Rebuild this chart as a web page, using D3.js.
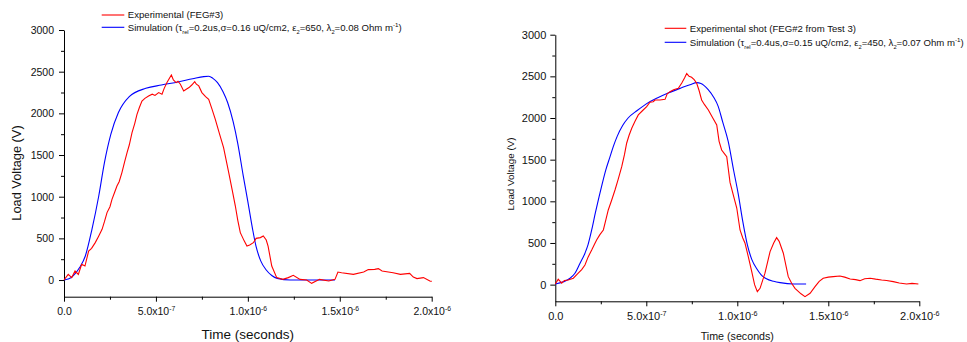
<!DOCTYPE html>
<html>
<head>
<meta charset="utf-8">
<script src="https://cdn.jsdelivr.net/npm/d3@7"></script>
<style>
  body { margin: 0; background: #fff; }
  text { font-family: "Liberation Sans", Arial, sans-serif; fill: #111; }
</style>
</head>
<body>
<svg id="chart" width="967" height="342"></svg>
<script>
// time values are in units of 1e-7 s
const tUnit = 1e-7;

const xTicks = [0, 5e-7, 1e-6, 1.5e-6, 2e-6];
const xMinor = [2.5e-7, 7.5e-7, 1.25e-6, 1.75e-6];
const yTicks = [0, 500, 1000, 1500, 2000, 2500, 3000];
const yMinor = [250, 750, 1250, 1750, 2250, 2750];

// left panel: FEG#3
const leftExpT = [0, 0.23, 0.42, 0.6, 0.78, 0.96, 1.14, 1.34, 1.5, 1.7, 1.87, 2.07, 2.2, 2.34, 2.5, 2.61, 2.75, 2.88, 3.0, 3.15, 3.3, 3.43, 3.55, 3.7, 3.85, 3.97, 4.1, 4.24, 4.4, 4.6, 4.8, 4.95, 5.15, 5.33, 5.45, 5.6, 5.84, 5.95, 6.1, 6.2, 6.33, 6.51, 6.65, 6.8, 6.95, 7.11, 7.2, 7.33, 7.5, 7.7, 7.87, 8.05, 8.23, 8.45, 8.68, 8.96, 9.15, 9.32, 9.45, 9.59, 9.8, 9.95, 10.1, 10.3, 10.45, 10.68, 10.84, 11.0, 11.1, 11.3, 11.57, 11.9, 12.2, 12.47, 12.84, 13.2, 13.47, 13.9, 14.4, 14.74, 14.9, 15.1, 15.74, 16.3, 16.55, 16.9, 17.1, 17.3, 17.9, 18.3, 18.8, 19.0, 19.2, 19.55, 19.9, 20.0];
const leftExpV = [0, 68, 29, 108, 68, 188, 168, 348, 380, 449, 520, 608, 700, 809, 880, 968, 1050, 1128, 1180, 1289, 1420, 1529, 1620, 1769, 1880, 1988, 2070, 2148, 2180, 2208, 2230, 2215, 2249, 2229, 2300, 2369, 2460, 2400, 2369, 2385, 2349, 2269, 2290, 2309, 2340, 2381, 2350, 2329, 2249, 2200, 2168, 2050, 1928, 1760, 1589, 1289, 1080, 888, 720, 569, 470, 408, 420, 448, 500, 509, 528, 480, 408, 168, 29, 8, 29, 56, 8, 0, -40, 8, -12, 8, 96, 88, 68, 96, 125, 128, 137, 108, 88, 68, 80, 36, 17, 29, -12, -16];
const leftSimT = [0, 0.4, 0.62, 0.85, 1.16, 1.52, 1.89, 2.2, 2.55, 2.96, 3.55, 4.45, 5.3, 6.2, 7.0, 7.6, 7.87, 8.1, 8.35, 8.65, 8.9, 9.2, 9.45, 9.75, 10.0, 10.25, 10.45, 10.7, 11.0, 11.3, 11.6, 12.3, 14.74];
const leftSimV = [0, 30, 80, 150, 288, 608, 1008, 1409, 1750, 2009, 2200, 2300, 2340, 2377, 2415, 2441, 2445, 2420, 2369, 2260, 2130, 1900, 1640, 1250, 940, 620, 400, 230, 120, 55, 20, 0, 0];

// right panel: FEG#2 from Test 3
const rightExpT = [0, 0.16, 0.35, 0.5, 0.71, 0.99, 1.26, 1.45, 1.63, 1.8, 2.0, 2.14, 2.27, 2.45, 2.64, 2.78, 2.91, 3.1, 3.28, 3.45, 3.65, 3.8, 3.92, 4.05, 4.2, 4.38, 4.56, 4.8, 5.02, 5.2, 5.38, 5.48, 5.75, 6.03, 6.15, 6.3, 6.5, 6.76, 6.95, 7.1, 7.22, 7.35, 7.49, 7.63, 7.77, 7.9, 8.04, 8.2, 8.41, 8.6, 8.87, 9.0, 9.14, 9.3, 9.42, 9.6, 9.8, 9.97, 10.15, 10.3, 10.42, 10.6, 10.8, 10.95, 11.1, 11.25, 11.52, 11.8, 12.0, 12.16, 12.3, 12.53, 12.8, 13.0, 13.17, 13.5, 13.72, 14.0, 14.27, 14.5, 14.72, 15.0, 15.27, 15.64, 15.9, 16.2, 16.5, 16.74, 17.0, 17.3, 17.6, 17.93, 18.2, 18.57, 18.9, 19.3, 19.6, 19.95];
const rightExpV = [8, 65, 17, 50, 56, 77, 137, 180, 236, 330, 416, 480, 536, 600, 656, 780, 896, 1016, 1136, 1260, 1416, 1560, 1697, 1790, 1877, 1960, 2037, 2090, 2136, 2190, 2196, 2216, 2216, 2224, 2290, 2316, 2340, 2357, 2420, 2480, 2533, 2500, 2489, 2460, 2417, 2330, 2216, 2160, 2097, 2020, 1916, 1720, 1616, 1570, 1536, 1227, 1060, 920, 656, 560, 500, 340, 150, 0, -84, -44, 137, 396, 500, 564, 520, 377, 96, 10, -44, -110, -144, -104, -24, 40, 77, 90, 96, 104, 90, 68, 60, 48, 70, 77, 66, 56, 50, 36, 20, 8, 15, 8];
const rightSimT = [0, 0.81, 1.08, 1.36, 1.63, 1.8, 2.0, 2.2, 2.4, 2.6, 2.78, 3.0, 3.19, 3.4, 3.7, 4.0, 4.5, 5.0, 5.6, 6.2, 6.9, 7.4, 7.78, 8.0, 8.4, 8.7, 8.95, 9.2, 9.5, 9.8, 10.05, 10.3, 10.55, 10.8, 11.07, 11.3, 11.6, 12.0, 12.35, 13.1, 13.78];
const rightSimV = [8, 77, 137, 257, 377, 480, 656, 860, 1050, 1230, 1380, 1530, 1660, 1780, 1910, 2000, 2090, 2170, 2240, 2300, 2360, 2400, 2425, 2415, 2340, 2250, 2140, 1950, 1720, 1370, 1090, 760, 480, 300, 190, 120, 70, 40, 24, 8, 8];

const leftLegend = [
  [["Experimental (FEG#3)", ""]],
  [["Simulation (τ", ""], ["rel", "sub"], ["=0.2us,σ=0.16 uQ/cm2, ε", ""], ["2", "sub"], ["=650, λ", ""], ["2", "sub"], ["=0.08 Ohm m", ""], ["-1", "sup"], [")", ""]]
];
const rightLegend = [
  [["Experimental shot (FEG#2 from Test 3)", ""]],
  [["Simulation (τ", ""], ["rel", "sub"], ["=0.4us,σ=0.15 uQ/cm2, ε", ""], ["2", "sub"], ["=450, λ", ""], ["2", "sub"], ["=0.07 Ohm m", ""], ["-1", "sup"], [")", ""]]
];

const svg = d3.select("#chart");

// text with sub/superscript pieces; baseline restored after each shifted piece
function pieces(sel, parts, size) {
  let shift = 0;
  parts.forEach(([txt, kind]) => {
    const sp = sel.append("tspan").text(txt);
    let target = 0;
    if (kind === "sub") { target = size * 0.3; sp.attr("font-size", size * 0.6); }
    if (kind === "sup") { target = -size * 0.4; sp.attr("font-size", size * 0.65); }
    const dy = target - shift;
    if (dy !== 0) sp.attr("dy", dy);
    shift = target;
  });
}

function drawPanel(p) {
  const g = svg.append("g");
  const x = d3.scaleLinear().domain([0, 2e-6]).range([p.left, p.right]);
  const y = d3.scaleLinear().domain([-200, 3000]).range([p.bottom, p.top]);

  // minor ticks
  g.append("g").attr("transform", `translate(0,${p.bottom})`)
    .call(d3.axisBottom(x).tickValues(xMinor).tickSize(3).tickSizeOuter(0).tickFormat(""))
    .call(a => a.select(".domain").remove());
  g.append("g").attr("transform", `translate(${p.left},0)`)
    .call(d3.axisLeft(y).tickValues(yMinor).tickSize(3).tickSizeOuter(0).tickFormat(""))
    .call(a => a.select(".domain").remove());

  // major axes
  const xa = g.append("g").attr("transform", `translate(0,${p.bottom})`)
    .call(d3.axisBottom(x).tickValues(xTicks).tickSize(5).tickSizeOuter(0).tickPadding(p.xPad));
  xa.selectAll(".tick text").attr("font-size", p.tick).attr("font-family", null)
    .each(function(v) {
      const t = d3.select(this).text(null);
      if (v === 0) { t.text("0.0"); return; }
      const e = Math.floor(Math.log10(v) + 1e-9);
      const m = (v / Math.pow(10, e)).toFixed(1);
      pieces(t, [[m + "x10", ""], [String(e), "sup"]], p.tick);
    });

  const ya = g.append("g").attr("transform", `translate(${p.left},0)`)
    .call(d3.axisLeft(y).tickValues(yTicks).tickSize(5).tickSizeOuter(0)
      .tickPadding(p.yPad).tickFormat(d3.format("d")));
  ya.selectAll(".tick text").attr("font-size", p.tick).attr("font-family", null);
  g.selectAll(".domain, .tick line").attr("stroke", "#000");

  // axis titles
  g.append("text").attr("x", (p.left + p.right) / 2).attr("y", p.xTitleY)
    .attr("text-anchor", "middle").attr("font-size", p.title).text("Time (seconds)");
  g.append("text").attr("transform", `translate(${p.yTitleX},${p.yTitleY}) rotate(-90)`)
    .attr("text-anchor", "middle").attr("font-size", p.yTitle).text("Load Voltage (V)");

  // series: smooth simulation, raw experimental trace
  const simLine = d3.line().curve(d3.curveMonotoneX).x(d => x(d[0] * tUnit)).y(d => y(d[1]));
  const expLine = d3.line().x(d => x(d[0] * tUnit)).y(d => y(d[1]));
  g.append("path").datum(d3.zip(p.simT, p.simV)).attr("d", simLine)
    .attr("fill", "none").attr("stroke", "#0000ff").attr("stroke-width", 1.1);
  g.append("path").datum(d3.zip(p.expT, p.expV)).attr("d", expLine)
    .attr("fill", "none").attr("stroke", "#ff0000").attr("stroke-width", 1.1);

  // legend
  const colors = ["#ff0000", "#0000ff"];
  p.legend.forEach((parts, i) => {
    const ly = p.legY + i * p.legGap;
    g.append("line").attr("x1", p.legX0).attr("x2", p.legX1).attr("y1", ly).attr("y2", ly)
      .attr("stroke", colors[i]).attr("stroke-width", 1.1);
    const t = g.append("text").attr("x", p.legX1 + 3.5).attr("y", ly + p.leg * 0.35)
      .attr("font-size", p.leg);
    pieces(t, parts, p.leg);
  });
}

drawPanel({
  left: 64, right: 431.7, top: 30, bottom: 296.7,
  tick: 10.5, title: 13.5, yTitle: 12.8, xPad: 6, yPad: 5,
  xTitleY: 339, yTitleX: 21, yTitleY: 173,
  expT: leftExpT, expV: leftExpV, simT: leftSimT, simV: leftSimV,
  legend: leftLegend, legX0: 101.7, legX1: 124.3, legY: 15, legGap: 12.3, leg: 9.6
});

drawPanel({
  left: 555.3, right: 919.3, top: 34.7, bottom: 301.3,
  tick: 11, title: 10.7, yTitle: 9.8, xPad: 6, yPad: 4,
  xTitleY: 340, yTitleX: 514, yTitleY: 174,
  expT: rightExpT, expV: rightExpV, simT: rightSimT, simV: rightSimV,
  legend: rightLegend, legX0: 664.7, legX1: 686.3, legY: 28.3, legGap: 14, leg: 9.6
});
</script>
</body>
</html>
